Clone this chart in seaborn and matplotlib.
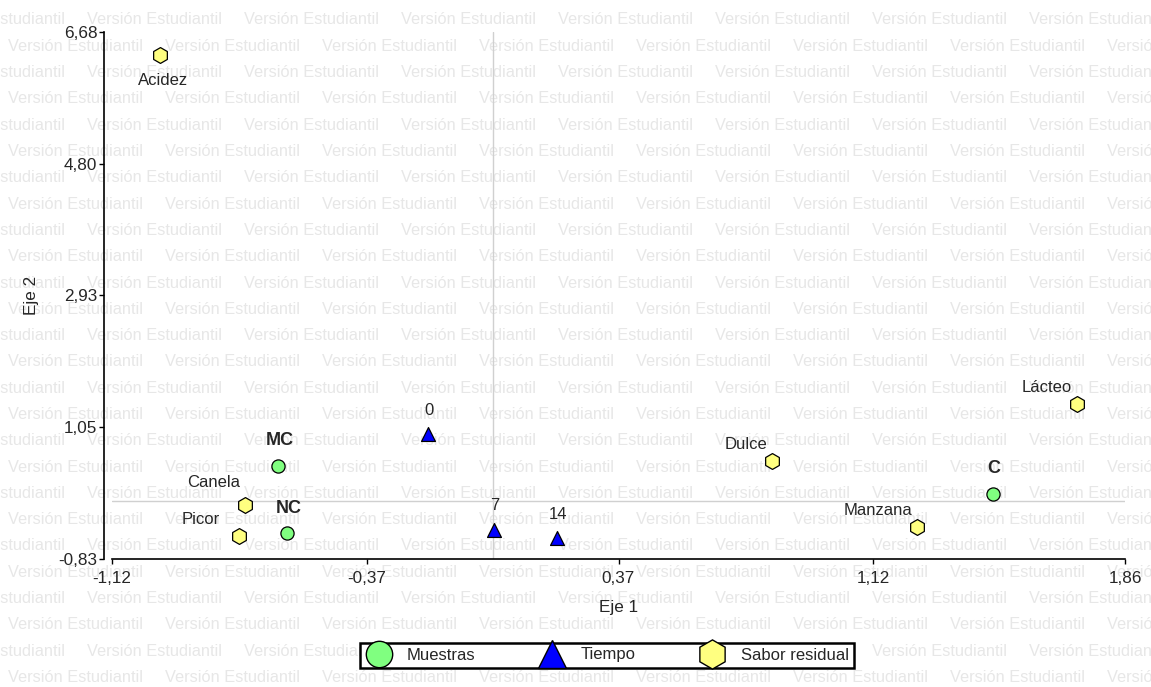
"""
Biplot (Eje 1 vs Eje 2) - muestras, tiempo y sabor residual
"""

import pandas as pd
import matplotlib
matplotlib.use("Agg")
import matplotlib.pyplot as plt
from matplotlib.lines import Line2D
import seaborn as sns

sns.set_style("white")
plt.rcParams['font.family'] = ['Liberation Sans', 'DejaVu Sans']

# Data
muestras = ['MC', 'NC', 'C']
muestras_x = [-0.631, -0.605, 1.471]
muestras_y = [0.50, -0.46, 0.10]

tiempo = ['0', '7', '14']
tiempo_x = [-0.191, 0.003, 0.188]
tiempo_y = [0.95, -0.41, -0.53]

sabor = ['Acidez', 'Canela', 'Picor', 'Dulce', 'Manzana', 'Lácteo']
sabor_x = [-0.978, -0.728, -0.746, 0.822, 1.248, 1.718]
sabor_y = [6.35, -0.06, -0.50, 0.57, -0.38, 1.38]

x_ticks = [-1.12, -0.37, 0.37, 1.12, 1.86]
y_ticks = [-0.83, 1.05, 2.93, 4.80, 6.68]

df = pd.concat([
    pd.DataFrame({'label': muestras, 'x': muestras_x, 'y': muestras_y, 'grupo': 'Muestras'}),
    pd.DataFrame({'label': tiempo, 'x': tiempo_x, 'y': tiempo_y, 'grupo': 'Tiempo'}),
    pd.DataFrame({'label': sabor, 'x': sabor_x, 'y': sabor_y, 'grupo': 'Sabor residual'}),
], ignore_index=True)

colors = {'Muestras': '#80ff80', 'Tiempo': '#0000ff', 'Sabor residual': '#ffff80'}
markers = {'Muestras': 'o', 'Tiempo': '^', 'Sabor residual': 'h'}
sizes = {'Muestras': 90, 'Tiempo': 100, 'Sabor residual': 130}

# label offsets (points) for the attribute labels, default is upper-left
label_offset = {'Acidez': (2, -18), 'Canela': (-4, 16.5), 'Picor': (-14, 12)}

fig = plt.figure(figsize=(11.51, 6.87), dpi=100)

# watermark ("Versión Estudiantil")
for r in range(26):
    ypos = 1 - (20 + r * 26.3) / 687
    shift = 87 if r % 2 == 0 else 8
    for c in range(-1, 8):
        xpos = (shift + c * 157) / 1151
        fig.text(xpos, ypos, 'Versión Estudiantil', fontsize=11.8, color='#e7e7e7',
                 va='center', ha='left', zorder=-5)

ax = fig.add_axes([112 / 1151, 1 - 559 / 687, (1125 - 112) / 1151, (559 - 32) / 687])
ax.patch.set_alpha(0)

for side in ['top', 'right']:
    ax.spines[side].set_visible(False)
ax.spines['left'].set_position(('outward', 6))
ax.spines['left'].set_color('black')
ax.spines['bottom'].set_color('black')
ax.spines['left'].set_linewidth(1.2)
ax.spines['bottom'].set_linewidth(1.2)

ax.axvline(0, color='#d0d0d0', lw=1, zorder=1)
ax.axhline(0, color='#d0d0d0', lw=1, zorder=1)

for grupo in ['Muestras', 'Tiempo', 'Sabor residual']:
    sub = df[df['grupo'] == grupo]
    sns.scatterplot(data=sub, x='x', y='y', marker=markers[grupo], s=sizes[grupo],
                    color=colors[grupo], edgecolor='black', linewidth=0.9,
                    ax=ax, zorder=3, legend=False)

# labels
for _, row in df.iterrows():
    if row['grupo'] == 'Muestras':
        ax.annotate(row['label'], (row['x'], row['y']), xytext=(1, 18), textcoords='offset points',
                    ha='center', va='center', fontsize=13, fontweight='bold')
    elif row['grupo'] == 'Tiempo':
        ax.annotate(row['label'], (row['x'], row['y']), xytext=(1, 17), textcoords='offset points',
                    ha='center', va='center', fontsize=12)
    elif row['label'] == 'Acidez':
        ax.annotate(row['label'], (row['x'], row['y']), xytext=label_offset['Acidez'],
                    textcoords='offset points', ha='center', va='center', fontsize=12)
    else:
        ax.annotate(row['label'], (row['x'], row['y']),
                    xytext=label_offset.get(row['label'], (-3.6, 12)),
                    textcoords='offset points', ha='right', va='center', fontsize=12)

ax.set_xlim(x_ticks[0], x_ticks[-1])
ax.set_ylim(y_ticks[0], y_ticks[-1])
ax.set_xticks(x_ticks)
ax.set_yticks(y_ticks)
ax.set_xticklabels([f'{v:.2f}'.replace('.', ',') for v in x_ticks])
ax.set_yticklabels([f'{v:.2f}'.replace('.', ',') for v in y_ticks])
ax.tick_params(axis='both', direction='out', length=3.5, width=1, color='black', pad=1,
               bottom=True, left=True, labelsize=12.3)
ax.tick_params(axis='x', pad=5)

ax.set_xlabel('Eje 1', fontsize=12.3, labelpad=10)
ax.set_ylabel('Eje 2', fontsize=12.3, labelpad=14)

handles = [
    Line2D([], [], marker='o', color='none', markerfacecolor=colors['Muestras'],
           markeredgecolor='black', markersize=19, label='Muestras'),
    Line2D([], [], marker='^', color='none', markerfacecolor=colors['Tiempo'],
           markeredgecolor='black', markersize=20, label='Tiempo'),
    Line2D([], [], marker='h', color='none', markerfacecolor=colors['Sabor residual'],
           markeredgecolor='black', markersize=21, label='Sabor residual'),
]
leg = fig.legend(handles=handles, loc='center', bbox_to_anchor=(607 / 1151, 1 - 655 / 687),
                 ncol=3, frameon=True, fancybox=False, fontsize=12, handletextpad=0.9,
                 columnspacing=3.8, borderpad=0.3, handlelength=1.6, borderaxespad=0)
leg.get_frame().set_edgecolor('black')
leg.get_frame().set_linewidth(1.8)
leg.get_frame().set_facecolor('white')
leg.get_frame().set_alpha(1)

fig.savefig('out.png', dpi=100)
